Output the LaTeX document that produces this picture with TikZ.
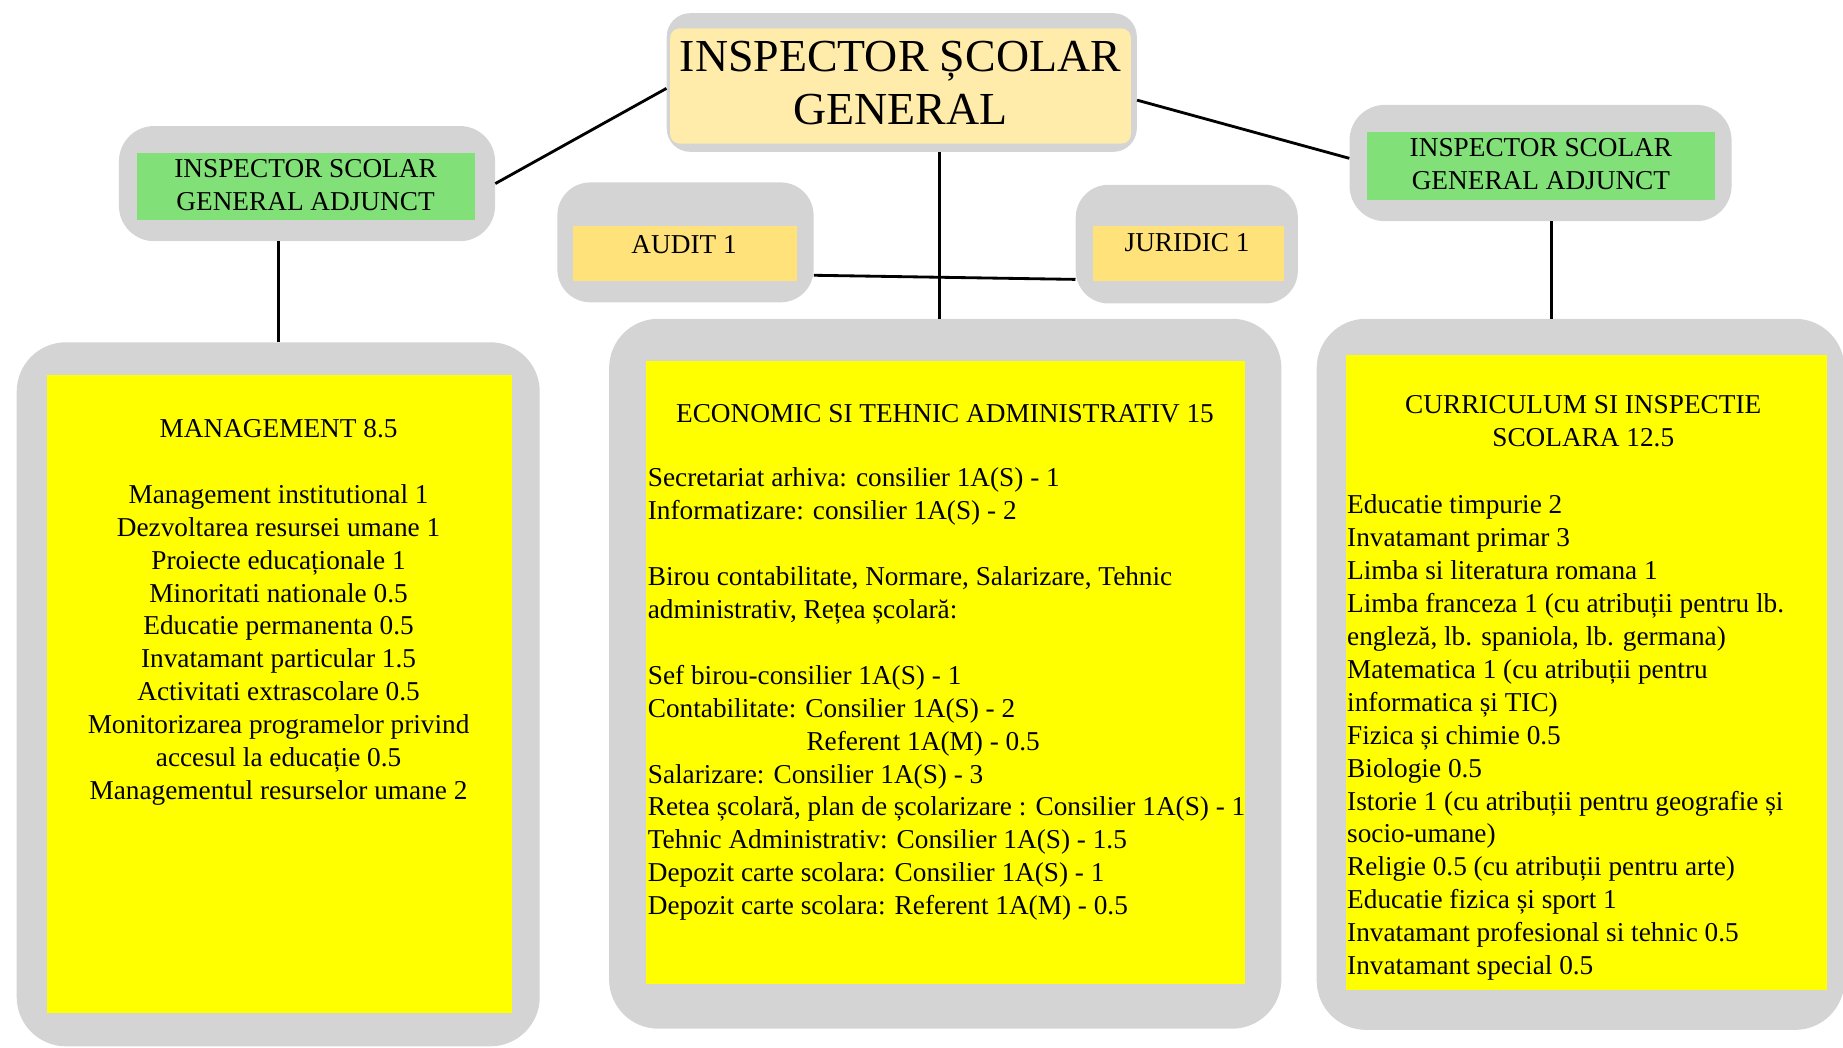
\documentclass[tikz,border=0pt]{standalone}
\usepackage{fontspec}
\setmainfont{Liberation Serif}
\definecolor{graybg}{RGB}{212,212,212}
\definecolor{topyel}{RGB}{255,236,170}
\definecolor{audcol}{RGB}{255,226,122}
\definecolor{grncol}{RGB}{130,224,120}
\definecolor{yelcol}{RGB}{255,255,0}
\begin{document}
\begin{tikzpicture}[x=1pt,y=-1pt,
  graybox/.style={fill=graybg, draw=none, inner sep=0pt, anchor=north west},
  fillbox/.style={draw=none, inner sep=0pt, anchor=north west},
  txt/.style={inner sep=0pt, font=\fontsize{23.2}{28}\selectfont},
  bigtxt/.style={inner sep=0pt, font=\fontsize{39}{45}\selectfont},
  conn/.style={draw=black, line width=2.4pt}]
\useasboundingbox (0,0) rectangle (1568,891);
% ---- gray backgrounds ----
\node[graybox, rounded corners=20pt, minimum width=400pt, minimum height=118pt] (topg) at (567,11) {};
\node[graybox, rounded corners=30pt, minimum width=320pt, minimum height=98pt] (ladjg) at (101,107) {};
\node[graybox, rounded corners=30pt, minimum width=325pt, minimum height=99pt] (radjg) at (1148,89) {};
\node[graybox, rounded corners=28pt, minimum width=218pt, minimum height=102pt] (audg) at (474,155) {};
\node[graybox, rounded corners=28pt, minimum width=189pt, minimum height=101pt] (jurg) at (915,157) {};
\node[graybox, rounded corners=42pt, minimum width=445pt, minimum height=599pt] (lbigg) at (14,291) {};
\node[graybox, rounded corners=42pt, minimum width=572pt, minimum height=604pt] (mbigg) at (518,271) {};
\node[graybox, rounded corners=42pt, minimum width=449pt, minimum height=605pt] (rbigg) at (1120,271) {};
% ---- coloured inner boxes ----
\node[fillbox, fill=topyel, rounded corners=8pt, minimum width=392pt, minimum height=98pt] (topf) at (570,24) {};
\node[fillbox, fill=grncol, minimum width=288pt, minimum height=57pt] (ladjf) at (116,130) {};
\node[fillbox, fill=grncol, minimum width=296pt, minimum height=58pt] (radjf) at (1163,112) {};
\node[fillbox, fill=audcol, minimum width=191pt, minimum height=47pt] (audf) at (487,192) {};
\node[fillbox, fill=audcol, minimum width=162pt, minimum height=47pt] (jurf) at (930,192) {};
\node[fillbox, fill=yelcol, minimum width=395pt, minimum height=543pt] (lbigf) at (40,319) {};
\node[fillbox, fill=yelcol, minimum width=510pt, minimum height=530pt] (mbigf) at (549,307) {};
\node[fillbox, fill=yelcol, minimum width=409pt, minimum height=540pt] (rbigf) at (1145,302) {};
% ---- connectors ----
\draw[conn] ([yshift=-5pt]topg.west) -- (ladjg.east);
\draw[conn] ([yshift=-15pt]topg.east) -- ([yshift=4pt]radjg.west);
\draw[conn] ([xshift=32pt]topg.south) -- ([xshift=32pt]topg.south |- mbigg.north);
\draw[conn] ([yshift=-28pt]audg.east) -- ([yshift=-30pt]jurg.west);
\draw[conn] ([xshift=-24pt]ladjg.south) -- ([xshift=-24pt]ladjg.south |- lbigg.north);
\draw[conn] ([xshift=9pt]radjg.south) -- ([xshift=9pt]radjg.south |- rbigg.north);
% ---- texts ----
\node[bigtxt, anchor=north, align=center] (toptxt) at (766,29.5) {\strut INSPECTOR ȘCOLAR\\GENERAL};
\node[txt, anchor=north, align=center] (ladjtxt) at (260,131) {\strut INSPECTOR SCOLAR\\GENERAL ADJUNCT};
\node[txt, anchor=north, align=center] (radjtxt) at (1311,113.5) {\strut INSPECTOR SCOLAR\\GENERAL ADJUNCT};
\node[txt, anchor=north, align=center] (audtxt) at (582,196) {\strut AUDIT 1};
\node[txt, anchor=north, align=center] (jurtxt) at (1010,194) {\strut JURIDIC 1};
\node[txt, anchor=north, align=center] (mgmttxt) at (237,352.4) {\strut MANAGEMENT 8.5\\[28pt]
Management institutional 1\\
Dezvoltarea resursei umane 1\\
Proiecte educaționale 1\\
Minoritati nationale 0.5\\
Educatie permanenta 0.5\\
Invatamant particular 1.5\\
Activitati extrascolare 0.5\\
Monitorizarea programelor privind\\
accesul la educație 0.5\\
Managementul resurselor umane 2};
\node[txt, anchor=north] (ecotitle) at (804,339.4) {\strut ECONOMIC SI TEHNIC ADMINISTRATIV 15};
\node[txt, anchor=north west, align=left] (ecotxt) at (551,394.4) {\strut Secretariat arhiva: consilier 1A(S) - 1\\
Informatizare: consilier 1A(S) - 2\\[28pt]
Birou contabilitate, Normare, Salarizare, Tehnic\\
administrativ, Rețea școlară:\\[28pt]
Sef birou-consilier 1A(S) - 1\\
Contabilitate: Consilier 1A(S) - 2\\
\hspace*{135pt}Referent 1A(M) - 0.5\\
Salarizare: Consilier 1A(S) - 3\\
Retea școlară, plan de școlarizare : Consilier 1A(S) - 1\\
Tehnic Administrativ: Consilier 1A(S) - 1.5\\
Depozit carte scolara: Consilier 1A(S) - 1\\
Depozit carte scolara: Referent 1A(M) - 0.5};
\node[txt, anchor=north, align=center] (curtitle) at (1347,332.4) {\strut CURRICULUM SI INSPECTIE\\SCOLARA 12.5};
\node[txt, anchor=north west, align=left] (curtxt) at (1146,417.4) {\strut Educatie timpurie 2\\
Invatamant primar 3\\
Limba si literatura romana 1\\
Limba franceza 1 (cu atribuții pentru lb.\\
engleză, lb. spaniola, lb. germana)\\
Matematica 1 (cu atribuții pentru\\
informatica și TIC)\\
Fizica și chimie 0.5\\
Biologie 0.5\\
Istorie 1 (cu atribuții pentru geografie și\\
socio-umane)\\
Religie 0.5 (cu atribuții pentru arte)\\
Educatie fizica și sport 1\\
Invatamant profesional si tehnic 0.5\\
Invatamant special 0.5};
\end{tikzpicture}
\end{document}
